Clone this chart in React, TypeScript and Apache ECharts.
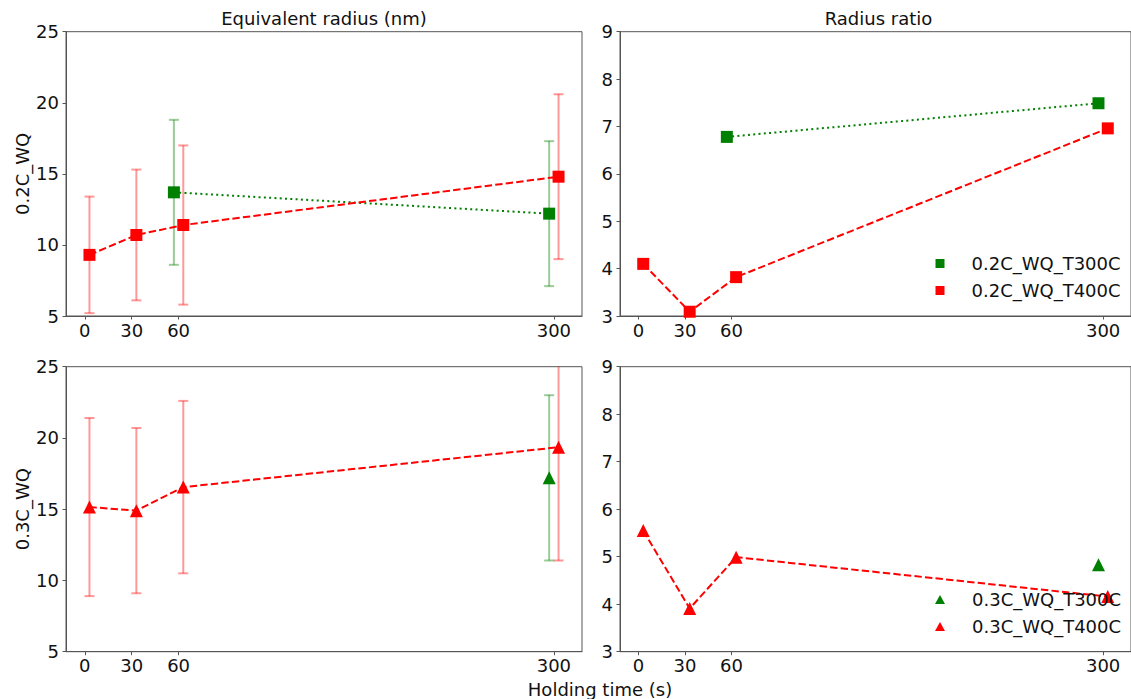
import React, { useEffect, useRef } from "react";
import * as echarts from "echarts";

// ---------- data ----------
const TICKS = [0, 30, 60, 300];
const TIMES_T400 = [0, 30, 60, 300];
const TIMES_02_T300 = [60, 300];
const TIMES_03_T300 = [300];

// Equivalent radius (nm), 0.2C_WQ
const R02_T300_MEAN = [13.7, 12.2];
const R02_T300_STD = [5.1, 5.1];
const R02_T400_MEAN = [9.3, 10.7, 11.4, 14.8];
const R02_T400_STD = [4.1, 4.6, 5.6, 5.8];

// Equivalent radius (nm), 0.3C_WQ
const R03_T300_MEAN = [17.2];
const R03_T300_STD = [5.8];
const R03_T400_MEAN = [15.15, 14.9, 16.55, 19.35];
const R03_T400_STD = [6.25, 5.8, 6.05, 7.95];

// Radius ratio
const RATIO02_T300 = [6.78, 7.49];
const RATIO02_T400 = [4.1, 3.09, 3.82, 6.96];
const RATIO03_T300 = [4.83];
const RATIO03_T400 = [5.55, 3.91, 4.99, 4.16];

const NAME_02_300 = "0.2C_WQ_T300C";
const NAME_02_400 = "0.2C_WQ_T400C";
const NAME_03_300 = "0.3C_WQ_T300C";
const NAME_03_400 = "0.3C_WQ_T400C";

// ---------- style ----------
const FONT = "DejaVu Sans";
const FS = 18;
const SPINE = "#555555";
const TXT = "#111111";
const RED = "#ff0000";
const GREEN = "#008000";
const RED_ERR = "rgba(255,0,0,0.4)";
const GREEN_ERR = "rgba(0,128,0,0.4)";
const DODGE_T400 = 3;
const DODGE_T300 = -3;

const GRIDS = [
  { left: 66, top: 31.7, width: 516, height: 284.3 },
  { left: 620, top: 31.7, width: 517, height: 284.3 },
  { left: 66, top: 366.7, width: 516, height: 285 },
  { left: 620, top: 366.7, width: 517, height: 285 },
];

function xAxis(gridIndex: number) {
  return {
    type: "value",
    gridIndex,
    min: -12,
    max: 318,
    axisLine: { show: true, onZero: false, lineStyle: { color: SPINE, width: 1 } },
    axisTick: { show: true, customValues: TICKS, length: 3.5, lineStyle: { color: SPINE, width: 1 } },
    axisLabel: { customValues: TICKS, fontSize: FS, fontFamily: FONT, color: TXT, margin: 5 },
    splitLine: { show: false },
  };
}

function yAxis(gridIndex: number, min: number, max: number, interval: number, name?: string) {
  return {
    type: "value",
    gridIndex,
    min,
    max,
    interval,
    name: name || "",
    nameLocation: "middle",
    nameRotate: 90,
    nameGap: 35,
    nameTextStyle: { fontSize: FS, fontFamily: FONT, color: TXT },
    axisLine: { show: true, onZero: false, lineStyle: { color: SPINE, width: 1 } },
    axisTick: { show: true, length: 3.5, lineStyle: { color: SPINE, width: 1 } },
    axisLabel: { fontSize: FS, fontFamily: FONT, color: TXT, margin: 7 },
    splitLine: { show: false },
  };
}

function errSeries(axis: number, times: number[], dodge: number, mean: number[], std: number[], color: string) {
  return {
    type: "custom",
    xAxisIndex: axis,
    yAxisIndex: axis,
    silent: true,
    z: 1,
    data: times.map((t, i) => [t + dodge, mean[i] - std[i], mean[i] + std[i]]),
    renderItem: (params: any, api: any) => {
      const cs = params.coordSys;
      const lo = api.coord([api.value(0), api.value(1)]);
      const hi = api.coord([api.value(0), api.value(2)]);
      const x = lo[0];
      const top = cs.y;
      const bottom = cs.y + cs.height;
      const y1 = Math.max(hi[1], top);
      const y2 = Math.min(lo[1], bottom);
      const st = { stroke: color, lineWidth: 2 };
      const children: any[] = [
        { type: "line", shape: { x1: x, y1, x2: x, y2 }, style: st },
      ];
      if (hi[1] >= top) children.push({ type: "line", shape: { x1: x - 5, y1: hi[1], x2: x + 5, y2: hi[1] }, style: st });
      if (lo[1] <= bottom) children.push({ type: "line", shape: { x1: x - 5, y1: lo[1], x2: x + 5, y2: lo[1] }, style: st });
      return { type: "group", children };
    },
  };
}

function lineSeries(
  axis: number,
  name: string,
  times: number[],
  dodge: number,
  vals: number[],
  color: string,
  symbol: string,
  dash: number[]
) {
  return {
    type: "line",
    name,
    xAxisIndex: axis,
    yAxisIndex: axis,
    data: times.map((t, i) => [t + dodge, vals[i]]),
    symbol,
    symbolSize: symbol === "triangle" ? 13 : 12,
    itemStyle: { color, borderWidth: 0 },
    lineStyle: { color, width: 2, type: dash },
    emphasis: { disabled: true },
    z: 3,
  };
}

const DASHED = [7.4, 3.2];
const DOTTED = [2, 3.3];

export default function App() {
  const ref = useRef<HTMLDivElement>(null);
  useEffect(() => {
    if (!ref.current) return;
    const chart = echarts.init(ref.current, null, { renderer: "svg" });
    const legendText = { fontSize: FS, fontFamily: FONT, color: TXT, padding: [0, 0, 0, 22] };
    chart.setOption({
      animation: false,
      grid: GRIDS.map((g) => ({ ...g, show: true, borderColor: SPINE, borderWidth: 1, backgroundColor: "transparent" })),
      xAxis: [0, 1, 2, 3].map((i) => xAxis(i)),
      yAxis: [
        yAxis(0, 5, 25, 5, "0.2C_WQ"),
        yAxis(1, 3, 9, 1),
        yAxis(2, 5, 25, 5, "0.3C_WQ"),
        yAxis(3, 3, 9, 1),
      ],
      legend: [
        {
          orient: "vertical",
          left: 935.5,
          top: 254.5,
          padding: 0,
          itemWidth: 9,
          itemHeight: 9,
          itemGap: 9,
          textStyle: legendText,
          data: [
            { name: NAME_02_300, icon: "rect" },
            { name: NAME_02_400, icon: "rect" },
          ],
        },
        {
          orient: "vertical",
          left: 935,
          top: 590.5,
          padding: 0,
          itemWidth: 10,
          itemHeight: 9,
          itemGap: 9,
          textStyle: legendText,
          data: [
            { name: NAME_03_300, icon: "triangle" },
            { name: NAME_03_400, icon: "triangle" },
          ],
        },
      ],
      graphic: [
        {
          type: "text",
          x: 324,
          y: 18,
          style: { text: "Equivalent radius (nm)", fontSize: FS, fontFamily: FONT, fill: TXT, align: "center", verticalAlign: "middle" },
        },
        {
          type: "text",
          x: 878.5,
          y: 18,
          style: { text: "Radius ratio", fontSize: FS, fontFamily: FONT, fill: TXT, align: "center", verticalAlign: "middle" },
        },
        {
          type: "text",
          x: 600,
          y: 689,
          style: { text: "Holding time (s)", fontSize: FS, fontFamily: FONT, fill: TXT, align: "center", verticalAlign: "middle" },
        },
      ],
      series: [
        // top-left
        errSeries(0, TIMES_02_T300, DODGE_T300, R02_T300_MEAN, R02_T300_STD, GREEN_ERR),
        errSeries(0, TIMES_T400, DODGE_T400, R02_T400_MEAN, R02_T400_STD, RED_ERR),
        lineSeries(0, NAME_02_300, TIMES_02_T300, DODGE_T300, R02_T300_MEAN, GREEN, "rect", DOTTED),
        lineSeries(0, NAME_02_400, TIMES_T400, DODGE_T400, R02_T400_MEAN, RED, "rect", DASHED),
        // top-right
        lineSeries(1, NAME_02_300, TIMES_02_T300, DODGE_T300, RATIO02_T300, GREEN, "rect", DOTTED),
        lineSeries(1, NAME_02_400, TIMES_T400, DODGE_T400, RATIO02_T400, RED, "rect", DASHED),
        // bottom-left
        errSeries(2, TIMES_03_T300, DODGE_T300, R03_T300_MEAN, R03_T300_STD, GREEN_ERR),
        errSeries(2, TIMES_T400, DODGE_T400, R03_T400_MEAN, R03_T400_STD, RED_ERR),
        lineSeries(2, NAME_03_300, TIMES_03_T300, DODGE_T300, R03_T300_MEAN, GREEN, "triangle", DOTTED),
        lineSeries(2, NAME_03_400, TIMES_T400, DODGE_T400, R03_T400_MEAN, RED, "triangle", DASHED),
        // bottom-right
        lineSeries(3, NAME_03_300, TIMES_03_T300, DODGE_T300, RATIO03_T300, GREEN, "triangle", DOTTED),
        lineSeries(3, NAME_03_400, TIMES_T400, DODGE_T400, RATIO03_T400, RED, "triangle", DASHED),
      ],
    });
    return () => chart.dispose();
  }, []);
  return (
    <div
      ref={ref}
      style={{ position: "fixed", left: 0, top: 0, width: 1131, height: 699, background: "#ffffff" }}
    />
  );
}
